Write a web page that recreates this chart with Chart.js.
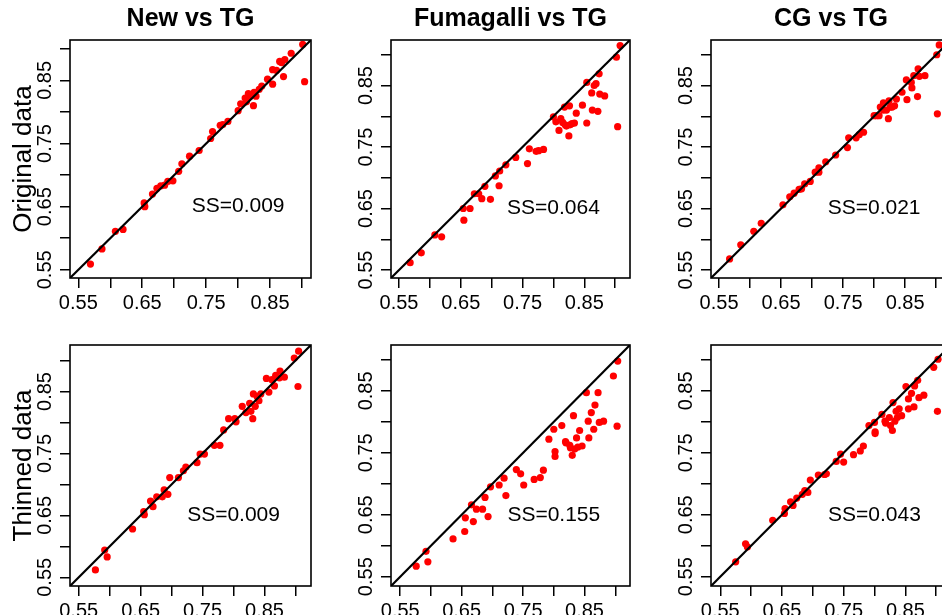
<!DOCTYPE html>
<html>
<head>
<meta charset="utf-8">
<script src="https://cdn.jsdelivr.net/npm/chart.js@4.4.1/dist/chart.umd.min.js"></script>
<style>
html, body { margin: 0; padding: 0; background: #fff; overflow: hidden; }
#wrap { position: relative; width: 942px; height: 615px; overflow: hidden; }
#wrap canvas { position: absolute; }
</style>
</head>
<body>
<div id="wrap"></div>
<script>
// texts
const panelTitles = ['New vs TG', 'Fumagalli vs TG', 'CG vs TG'];
const rowLabels = ['Original data', 'Thinned data'];
const ssOriginal = ['SS=0.009', 'SS=0.064', 'SS=0.021'];
const ssThinned = ['SS=0.009', 'SS=0.155', 'SS=0.043'];
const tickValues = [0.55, 0.60, 0.65, 0.70, 0.75, 0.80, 0.85, 0.90];
const tickLabels = ['0.55', '', '0.65', '', '0.75', '', '0.85', ''];

// axis limits (data range + 4%)
const limOriginal = [[0.537, 0.914], [0.537, 0.924], [0.537, 0.924]];
const limThinned = [[0.536, 0.925], [0.535, 0.924], [0.535, 0.924]];

// original data
const origNewX = [.569,.587,.608,.620,.653,.654,.666,.673,.679,.685,.690,.698,.707,.712,.724,.739,.757,.760,.772,.776,.784,.800,.804,.811,.813,.816,.818,.824,.825,.828,.833,.837,.846,.854,.854,.860,.865,.868,.871,.873,.883,.901,.904];
const origNewY = [.559,.583,.611,.614,.656,.650,.670,.679,.683,.684,.690,.691,.706,.718,.730,.739,.758,.769,.779,.780,.785,.802,.813,.822,.816,.829,.824,.810,.831,.825,.836,.841,.852,.844,.867,.866,.880,.878,.856,.883,.893,.907,.848];
const origFumX = [.568,.586,.608,.619,.654,.655,.665,.672,.679,.684,.689,.698,.706,.712,.713,.723,.739,.758,.761,.772,.776,.784,.800,.804,.809,.812,.815,.818,.819,.821,.825,.826,.827,.830,.834,.837,.847,.854,.854,.862,.863,.866,.869,.872,.874,.875,.883,.902,.904,.908];
const origFumY = [.562,.578,.607,.604,.650,.631,.650,.674,.674,.666,.686,.665,.703,.687,.711,.721,.733,.723,.747,.743,.744,.746,.799,.791,.777,.796,.790,.815,.786,.784,.768,.817,.786,.788,.789,.805,.818,.789,.855,.838,.810,.850,.853,.808,.869,.836,.833,.896,.783,.915];
const origCgX = [.567,.585,.606,.618,.653,.664,.671,.679,.683,.688,.697,.705,.711,.711,.722,.738,.757,.759,.771,.776,.783,.800,.804,.808,.810,.815,.815,.820,.823,.824,.826,.829,.833,.836,.845,.852,.853,.860,.861,.864,.870,.871,.873,.882,.901,.902,.905];
const origCgY = [.568,.591,.613,.626,.656,.669,.675,.681,.682,.690,.694,.709,.716,.709,.726,.737,.749,.765,.765,.770,.774,.801,.801,.801,.815,.822,.810,.810,.796,.825,.815,.815,.817,.828,.839,.859,.827,.855,.846,.866,.832,.877,.865,.866,.900,.804,.916];

// thinned data
const thinNewX = [.577,.592,.596,.637,.655,.656,.666,.670,.676,.685,.688,.694,.697,.711,.719,.723,.741,.746,.753,.769,.778,.784,.792,.802,.804,.814,.820,.826,.828,.831,.832,.835,.838,.841,.844,.853,.857,.862,.866,.868,.874,.875,.882,.898,.904,.905];
const thinNewY = [.562,.594,.583,.628,.656,.651,.673,.664,.680,.680,.691,.684,.711,.711,.722,.728,.735,.749,.749,.763,.763,.788,.806,.806,.801,.826,.816,.831,.818,.806,.846,.826,.842,.835,.846,.871,.849,.869,.859,.876,.872,.883,.873,.904,.858,.915];
const thinFumX = [.576,.592,.595,.636,.655,.656,.666,.669,.674,.684,.688,.693,.697,.711,.719,.722,.739,.746,.751,.768,.778,.783,.792,.800,.802,.802,.813,.819,.820,.826,.827,.830,.832,.834,.837,.839,.842,.846,.853,.856,.857,.861,.865,.867,.872,.874,.881,.897,.903,.904];
const thinFumY = [.567,.591,.574,.611,.623,.645,.666,.639,.659,.659,.678,.647,.695,.698,.709,.681,.723,.716,.698,.707,.710,.722,.772,.788,.752,.744,.794,.768,.766,.762,.758,.746,.810,.756,.774,.759,.786,.761,.847,.801,.774,.815,.788,.827,.847,.799,.801,.874,.793,.898];
const thinCgX = [.575,.591,.594,.635,.654,.655,.664,.668,.674,.683,.687,.692,.696,.709,.719,.722,.738,.745,.750,.766,.777,.782,.791,.800,.801,.801,.812,.817,.818,.824,.826,.829,.830,.833,.835,.837,.840,.844,.851,.855,.855,.860,.864,.865,.870,.872,.880,.896,.902,.903];
const thinCgY = [.574,.603,.598,.641,.652,.660,.671,.665,.677,.683,.689,.686,.706,.714,.715,.716,.736,.748,.735,.747,.753,.761,.794,.799,.784,.781,.812,.801,.798,.807,.794,.786,.831,.801,.817,.807,.821,.810,.857,.837,.821,.846,.824,.858,.867,.839,.843,.888,.817,.901];

const FONT = "'Liberation Sans', Arial, Helvetica, sans-serif";
Chart.defaults.font.family = FONT;
Chart.defaults.color = '#000';

// page layout of the plot boxes
const boxLeft = [70, 391, 711];
const boxWidth = [241, 239, 240];
const boxTop = [40, 345];
const boxHeight = [238, 241];
const ssPos = [0.80, 0.65];

const boxPlugin = {
    id: 'plotBox',
    afterDatasetsDraw(chart) {
        const {ctx, chartArea: a} = chart;
        ctx.save();
        ctx.strokeStyle = '#000';
        ctx.lineWidth = 1.6;
        ctx.strokeRect(a.left, a.top, a.right - a.left, a.bottom - a.top);
        ctx.restore();
    }
};

const ssPlugin = {
    id: 'ssLabel',
    afterDatasetsDraw(chart, args, opts) {
        const {ctx, scales} = chart;
        ctx.save();
        ctx.font = '21px ' + FONT;
        ctx.fillStyle = '#000';
        ctx.textAlign = 'center';
        ctx.textBaseline = 'middle';
        ctx.fillText(opts.text, scales.x.getPixelForValue(ssPos[0]), scales.y.getPixelForValue(ssPos[1]));
        ctx.restore();
    }
};

function makePanel(row, col, xs, ys, lim, ss) {
    const wrap = document.getElementById('wrap');
    const canvas = document.createElement('canvas');
    const w = 70 + boxWidth[col] + 14;
    const h = 40 + boxHeight[row] + 40;
    canvas.width = w;
    canvas.height = h;
    canvas.style.width = w + 'px';
    canvas.style.height = h + 'px';
    canvas.style.left = (boxLeft[col] - 70) + 'px';
    canvas.style.top = (boxTop[row] - 40) + 'px';
    wrap.appendChild(canvas);

    const lo = lim[0], hi = lim[1];
    const points = xs.map((x, i) => ({x: x, y: ys[i]}));

    const axisCommon = {
        type: 'linear',
        min: lo,
        max: hi,
        afterBuildTicks: s => { s.ticks = tickValues.map(v => ({value: v})); },
        grid: {display: true, drawOnChartArea: false, drawTicks: true, tickLength: 10, color: '#000', lineWidth: 1.5},
        border: {display: false}
    };

    new Chart(canvas, {
        type: 'scatter',
        data: {
            datasets: [
                {
                    type: 'line',
                    data: [{x: lo, y: lo}, {x: hi, y: hi}],
                    borderColor: '#000',
                    borderWidth: 2.2,
                    pointRadius: 0,
                    clip: 0
                },
                {
                    data: points,
                    backgroundColor: '#ff0000',
                    borderWidth: 0,
                    pointRadius: 3.6,
                    clip: 0
                }
            ]
        },
        options: {
            responsive: false,
            animation: false,
            devicePixelRatio: 1,
            layout: {padding: {left: 0, right: 14, top: row === 0 ? 0 : 40, bottom: 0}},
            plugins: {
                legend: {display: false},
                tooltip: {enabled: false},
                title: {
                    display: row === 0,
                    fullSize: false,
                    text: panelTitles[col],
                    color: '#000',
                    font: {size: 25, weight: 'bold'},
                    padding: {top: 4, bottom: 6}
                },
                ssLabel: {text: ss}
            },
            scales: {
                x: Object.assign({}, axisCommon, {
                    position: 'bottom',
                    afterFit: s => { s.height = 40; },
                    ticks: {
                        callback: (v, i) => tickLabels[i],
                        autoSkip: false,
                        maxRotation: 0,
                        minRotation: 0,
                        padding: 3,
                        color: '#000',
                        font: {size: 20}
                    }
                }),
                y: Object.assign({}, axisCommon, {
                    position: 'left',
                    afterFit: s => { s.width = 70; },
                    ticks: {
                        callback: (v, i) => tickLabels[i],
                        autoSkip: false,
                        minRotation: 90,
                        maxRotation: 90,
                        crossAlign: 'center',
                        padding: -5,
                        color: '#000',
                        font: {size: 20}
                    },
                    title: {
                        display: col === 0,
                        text: rowLabels[row],
                        color: '#000',
                        font: {size: 26},
                        padding: {top: 8, bottom: 0}
                    }
                })
            }
        },
        plugins: [boxPlugin, ssPlugin]
    });
}

makePanel(0, 0, origNewX, origNewY, limOriginal[0], ssOriginal[0]);
makePanel(0, 1, origFumX, origFumY, limOriginal[1], ssOriginal[1]);
makePanel(0, 2, origCgX, origCgY, limOriginal[2], ssOriginal[2]);
makePanel(1, 0, thinNewX, thinNewY, limThinned[0], ssThinned[0]);
makePanel(1, 1, thinFumX, thinFumY, limThinned[1], ssThinned[1]);
makePanel(1, 2, thinCgX, thinCgY, limThinned[2], ssThinned[2]);
</script>
</body>
</html>
